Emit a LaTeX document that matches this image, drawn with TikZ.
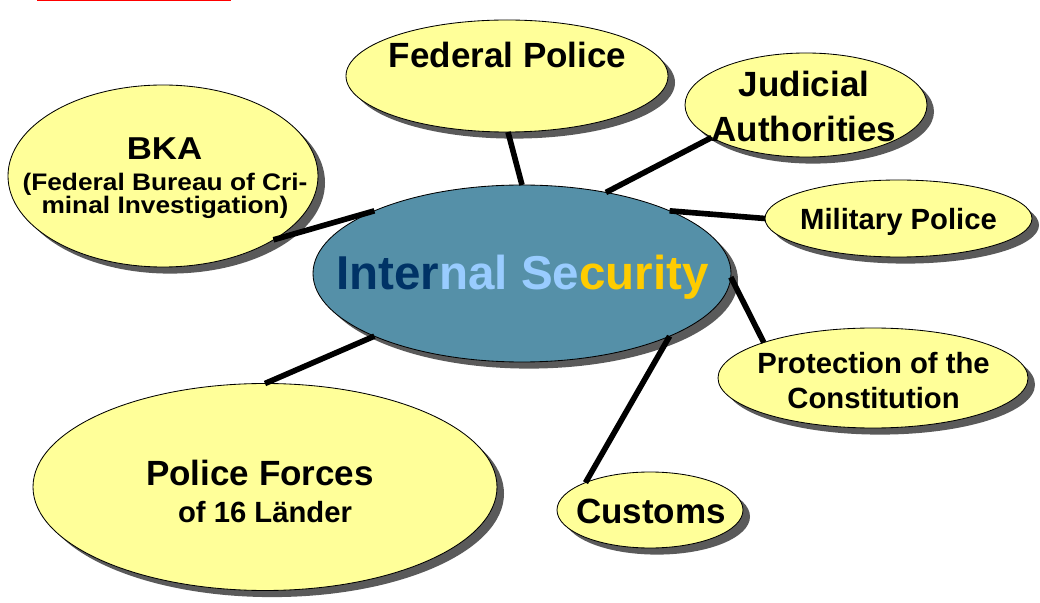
\documentclass[tikz,border=0pt]{standalone}
\usepackage{fontspec}
\setmainfont{Liberation Sans}
\newfontfamily\bkafont[FakeStretch=1.1]{Liberation Sans}
\usetikzlibrary{shapes.geometric}
\usetikzlibrary{shadows}
\definecolor{bubbleyellow}{HTML}{FFFF99}
\definecolor{secblue}{HTML}{5590A8}
\definecolor{secnavy}{HTML}{003366}
\definecolor{seclight}{HTML}{99CCFF}
\definecolor{secgold}{HTML}{FFCC00}
\definecolor{shadowgray}{HTML}{5A5A5A}
\def\px{0.025cm}

\begin{document}
\begin{tikzpicture}[x=\px, y=-\px, ellsize/.style 2 args={minimum width=#1*\px, minimum height=#2*\px}]
	\tikzstyle{bubble}=[ellipse, draw=black, line width=0.6pt, fill=bubbleyellow, inner sep=0pt, outer sep=0pt, drop shadow={shadow xshift=0.175cm, shadow yshift=-0.165cm, opacity=1, fill=shadowgray}]
	\tikzstyle{hub}=[bubble, fill=secblue]
	\tikzstyle{link}=[line width=4pt]
	\tikzstyle{big label}=[font=\fontsize{24.9}{32}\selectfont\bfseries, align=center, inner sep=0pt]
	\tikzstyle{small label}=[font=\fontsize{20.8}{24.9}\selectfont\bfseries, align=center, inner sep=0pt]
	
	\useasboundingbox (0,0) rectangle (1040,603);
	
	% Red rule cut off at the top
	\draw[red, line width=1.2pt] (37,0.5) -- (231,0.5);
	
	% Draw the hub
	\node[hub, ellsize={418}{177}] (sec) at (522,273.5) {};
	
	% Draw the outer bubbles
	\foreach \name / \x / \y / \w / \h in {fed/507/76/322/112, jud/806/105/242/104, mil/898.5/218.5/267/77, prot/873/378/310/100, cus/650/510/186/76, pol/265/487/464/207, bka/163/176/310/182}
	\node[bubble, ellsize={\w}{\h}] (\name) at (\x,\y) {};
	
	% Connect hub with the bubbles
	\foreach \source / \dest in {sec.90/fed.-89, sec.44/jud.199, sec.23/mil.180, sec.-1/prot.162, sec.-23/cus.157, sec.203/pol.90, sec.157/bka.-30}
	\draw[link] (\source) -- (\dest);
	
	% Labels
	\node[anchor=base, inner sep=0pt, font=\fontsize{33.8}{40}\selectfont\bfseries] (sec-text) at (522.5,290)
	{\textcolor{secnavy}{Inter}\textcolor{seclight}{nal Se}\textcolor{secgold}{curity}};
	\node[big label, anchor=base] (fed-text) at (507.5,68) {Federal Police};
	\node[big label] (jud-text) at (804,106.8) {Judicial\\Authorities};
	\node[small label, anchor=base] (mil-text) at (898.5,230) {Military Police};
	\node[small label] (prot-text) at (873.5,380.8) {Protection of the\\Constitution};
	\node[big label, anchor=base] (cus-text) at (651,523) {Customs};
	\node[big label, anchor=base] (pol-text) at (260,485) {Police Forces};
	\node[small label, anchor=base] (pol-sub) at (265,522) {of 16 Länder};
	\node[anchor=base, inner sep=0pt, font=\bkafont\fontsize{22.5}{27}\selectfont\bfseries] (bka-text) at (164.5,160) {BKA};
	\node[align=center, inner sep=0pt, font=\bkafont\fontsize{17}{14.2}\selectfont\bfseries] (bka-sub) at (165,196)
	{(Federal Bureau of Cri-\\minal Investigation)};
	
\end{tikzpicture}
\end{document}
